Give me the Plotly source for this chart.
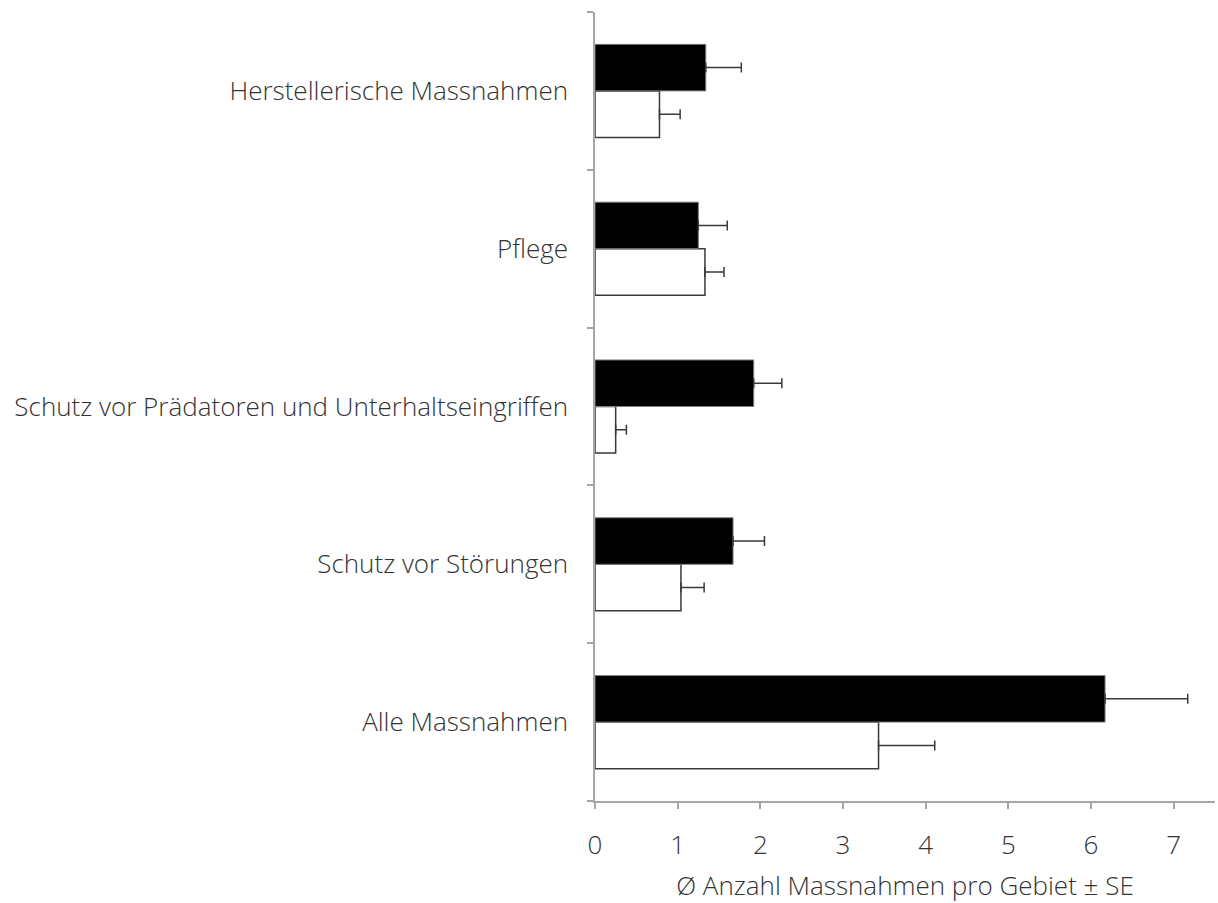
import plotly.graph_objects as go

# Categories, bottom to top
categories = [
    "Alle Massnahmen",
    "Schutz vor Störungen",
    "Schutz vor Prädatoren und Unterhaltseingriffen",
    "Pflege",
    "Herstellerische Massnahmen",
]

# Mean number of measures per area (white series / black series) and SE
white_mean = [3.43, 1.04, 0.25, 1.33, 0.78]
white_se = [0.68, 0.28, 0.13, 0.23, 0.25]
black_mean = [6.17, 1.67, 1.92, 1.25, 1.34]
black_se = [1.00, 0.38, 0.34, 0.35, 0.43]

x_ticks = [0, 1, 2, 3, 4, 5, 6, 7]
x_title = "Ø Anzahl Massnahmen pro Gebiet ± SE"

font_family = "Open Sans"
axis_grey = "#a6a6a6"
label_color = "#333333"
text_font = dict(family=font_family, size=26, color=label_color, weight=300)

fig = go.Figure()

fig.add_trace(go.Bar(
    y=categories, x=white_mean, orientation="h",
    marker=dict(color="white", line=dict(color="#3a3a3a", width=1.5)),
    error_x=dict(type="data", symmetric=False, array=white_se,
                 arrayminus=[0] * len(white_se), visible=True,
                 color="#3a3a3a", thickness=1.5, width=5),
    showlegend=False,
))
fig.add_trace(go.Bar(
    y=categories, x=black_mean, orientation="h",
    marker=dict(color="black", line=dict(color="#7f7f7f", width=1)),
    error_x=dict(type="data", symmetric=False, array=black_se,
                 arrayminus=[0] * len(black_se), visible=True,
                 color="#3a3a3a", thickness=1.5, width=5),
    showlegend=False,
))

fig.update_layout(
    width=1218, height=903,
    margin=dict(l=595, r=3, t=12, b=100),
    paper_bgcolor="white", plot_bgcolor="white",
    barmode="group", bargap=0.41, bargroupgap=0,
    font=text_font,
)

fig.update_xaxes(
    range=[0, 7.5], tickvals=x_ticks, ticktext=[str(v) for v in x_ticks],
    showline=True, linecolor=axis_grey, linewidth=1.5,
    ticks="outside", ticklen=6, tickcolor=axis_grey, tickwidth=1.5,
    showgrid=False, zeroline=False,
    ticklabelstandoff=14,
    tickfont=text_font,
    title=dict(text=x_title, standoff=20, font=text_font),
)

fig.update_yaxes(
    type="category", categoryorder="array", categoryarray=categories,
    showline=True, linecolor=axis_grey, linewidth=1.5,
    ticks="outside", ticklen=6, tickcolor=axis_grey, tickwidth=1.5,
    tickson="boundaries",
    showgrid=False, zeroline=False,
    ticklabelstandoff=20,
    tickfont=text_font,
)

fig.write_html("out.html")
